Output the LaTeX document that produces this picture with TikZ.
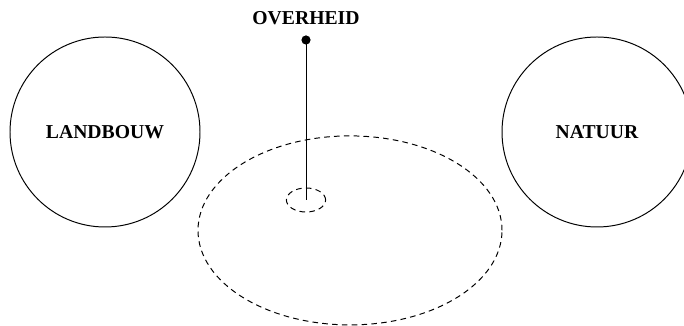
\documentclass[tikz,border=0pt]{standalone}
\usepackage{fontspec}
\setmainfont{Liberation Serif}
\usepackage{tikz}
\usetikzlibrary{
  positioning,
  shapes.geometric,
}
\tikzset{
  sector/.style={
    circle, draw=black, line width=0.7pt, inner sep=0pt,
    minimum size=4.75cm, font=\fontsize{14}{17}\selectfont\bfseries,
  },
  zone/.style={
    ellipse, draw=black, line width=0.7pt, dash pattern=on 4pt off 3pt,
    inner sep=0pt,
  },
  label/.style={
    font=\fontsize{14}{17}\selectfont\bfseries, inner sep=0pt,
  },
  dot/.style={
    circle, fill=black, inner sep=0pt, minimum size=0.23cm,
  },
  stem/.style={
    line width=0.6pt, draw=black,
  },
}
\begin{document}
\begin{tikzpicture}
\useasboundingbox (0,0) rectangle (17.1,8.15);

% Sectors
\node[sector] (landbouw) at (2.625, 4.85) {LANDBOUW};
\node[sector] (natuur) at (14.925, 4.85) {NATUUR};

% Dashed zones
\node[zone, minimum width=7.6cm, minimum height=4.725cm] (veld) at (8.75, 2.39) {};
\node[zone, minimum width=0.98cm, minimum height=0.6cm] (kern) at (7.65, 3.15) {};

% Government
\node[dot] (anker) at (7.65, 7.15) {};
\node[label] (overheid) at (7.65, 7.7) {OVERHEID};
\draw[stem] (anker.center) -- (kern.center);

\end{tikzpicture}
\end{document}
